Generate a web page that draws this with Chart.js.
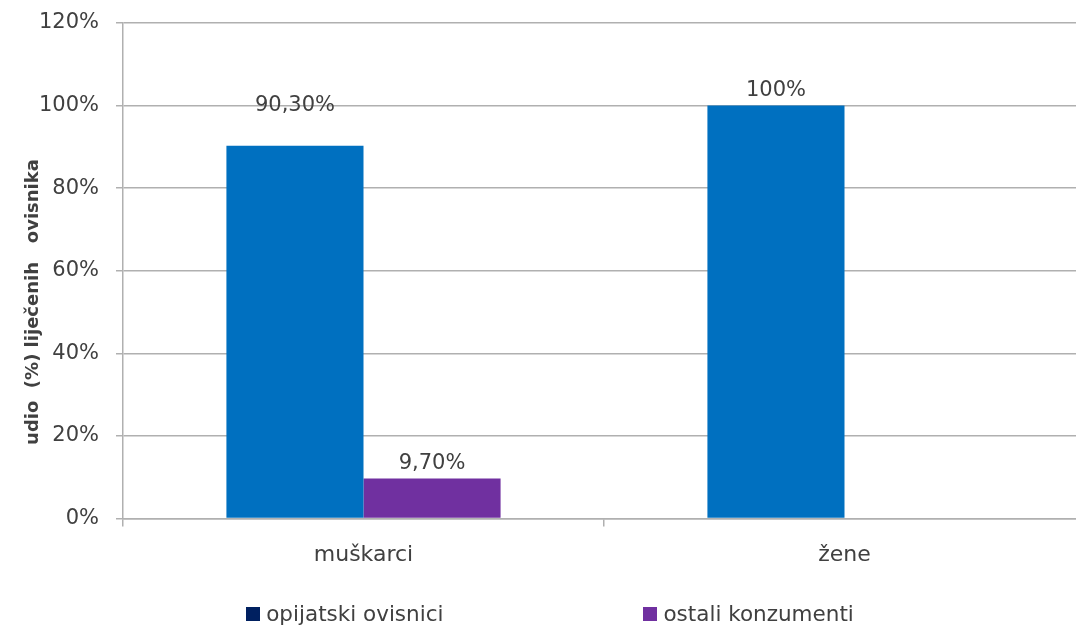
<!DOCTYPE html>
<html>
<head>
<meta charset="utf-8">
<script src="https://cdn.jsdelivr.net/npm/chart.js@4.4.1/dist/chart.umd.min.js"></script>
<style>
  html, body { margin: 0; padding: 0; background: #fff; overflow: hidden; }
  .wrap { position: relative; width: 1100px; height: 628px; }
  .legend {
    position: absolute; left: 0; top: 601px; width: 1100px;
    display: flex; justify-content: center; gap: 200px;
    font-family: "DejaVu Sans", sans-serif; font-size: 21.5px; line-height: 26px; color: #404040;
  }
  .legend span.box { display: inline-block; width: 14px; height: 14px; margin-right: 6px; vertical-align: 0px; }
</style>
</head>
<body>
<div class="wrap">
  <canvas id="chart"></canvas>
  <div class="legend" id="legend"></div>
</div>
<script>
const categories = ['muškarci', 'žene'];
const seriesNames = ['opijatski ovisnici', 'ostali konzumenti'];
const opijatski = [90.3, 100];
const ostali = [9.7, null];
const yTicks = [0, 20, 40, 60, 80, 100, 120];
const yTitle = 'udio  (%) liječenih   ovisnika';

const barColors = ['#0070C0', '#7030A0'];
const legendColors = ['#002060', '#7030A0'];
const textColor = '#404040';
const gridColor = '#B0B0B0';
const fontFamily = '"DejaVu Sans", sans-serif';

function fmt(v) {
  return Number.isInteger(v) ? v + '%' : v.toFixed(2).replace('.', ',') + '%';
}

// value labels above bars
const barLabels = {
  id: 'barLabels',
  afterDatasetsDraw(chart, args, opts) {
    const ctx = chart.ctx;
    ctx.save();
    ctx.font = '21px ' + fontFamily;
    ctx.fillStyle = textColor;
    ctx.textAlign = 'center';
    ctx.textBaseline = 'middle';
    chart.data.datasets.forEach((ds, i) => {
      chart.getDatasetMeta(i).data.forEach((bar, j) => {
        const v = ds.data[j];
        if (v === null || v === undefined) return;
        const lift = (opts.lift[i + '-' + j]) || opts.lift.def;
        ctx.fillText(fmt(v), bar.x, bar.y - lift);
      });
    });
    ctx.restore();
  }
};

// rotated y axis title, sits a bit below the middle like the original
const yAxisTitle = {
  id: 'yAxisTitle',
  afterDraw(chart, args, opts) {
    const ctx = chart.ctx;
    ctx.save();
    ctx.translate(opts.x, opts.y);
    ctx.rotate(-Math.PI / 2);
    ctx.font = 'bold 18px ' + fontFamily;
    ctx.fillStyle = textColor;
    ctx.textAlign = 'center';
    ctx.textBaseline = 'middle';
    ctx.fillText(yTitle, 0, 0);
    ctx.restore();
  }
};

new Chart(document.getElementById('chart'), {
  type: 'bar',
  data: {
    labels: categories,
    datasets: [
      { label: seriesNames[0], data: opijatski, backgroundColor: barColors[0] },
      { label: seriesNames[1], data: ostali, backgroundColor: barColors[1] }
    ]
  },
  options: {
    responsive: true,
    maintainAspectRatio: false,
    animation: false,
    categoryPercentage: 0.57,
    barPercentage: 1,
    layout: { padding: { top: 23, right: 15, bottom: 45, left: 0 } },
    plugins: {
      legend: { display: false },
      tooltip: { enabled: false },
      barLabels: { lift: { def: 15, '0-0': 40 } },
      yAxisTitle: { x: 33, y: 302 }
    },
    scales: {
      x: {
        grid: { drawOnChartArea: false, drawTicks: true, tickLength: 8, color: gridColor, lineWidth: 1.5, offset: true },
        border: { color: gridColor, width: 1.5 },
        ticks: { color: textColor, padding: 15, font: { family: fontFamily, size: 22 } }
      },
      y: {
        min: 0,
        max: 120,
        afterBuildTicks: (axis) => { axis.ticks = yTicks.map(v => ({ value: v })); },
        afterFit: (axis) => { axis.width = 123; axis.paddingTop = 0; },
        grid: { color: gridColor, lineWidth: 1.5, tickLength: 7 },
        border: { color: gridColor, width: 1.5 },
        ticks: {
          color: textColor, padding: 17,
          font: { family: fontFamily, size: 21 },
          callback: (v) => v + '%'
        }
      }
    }
  },
  plugins: [barLabels, yAxisTitle]
});

const legendEl = document.getElementById('legend');
seriesNames.forEach((name, i) => {
  const item = document.createElement('div');
  const box = document.createElement('span');
  box.className = 'box';
  box.style.background = legendColors[i];
  item.appendChild(box);
  item.appendChild(document.createTextNode(name));
  legendEl.appendChild(item);
});
</script>
</body>
</html>
